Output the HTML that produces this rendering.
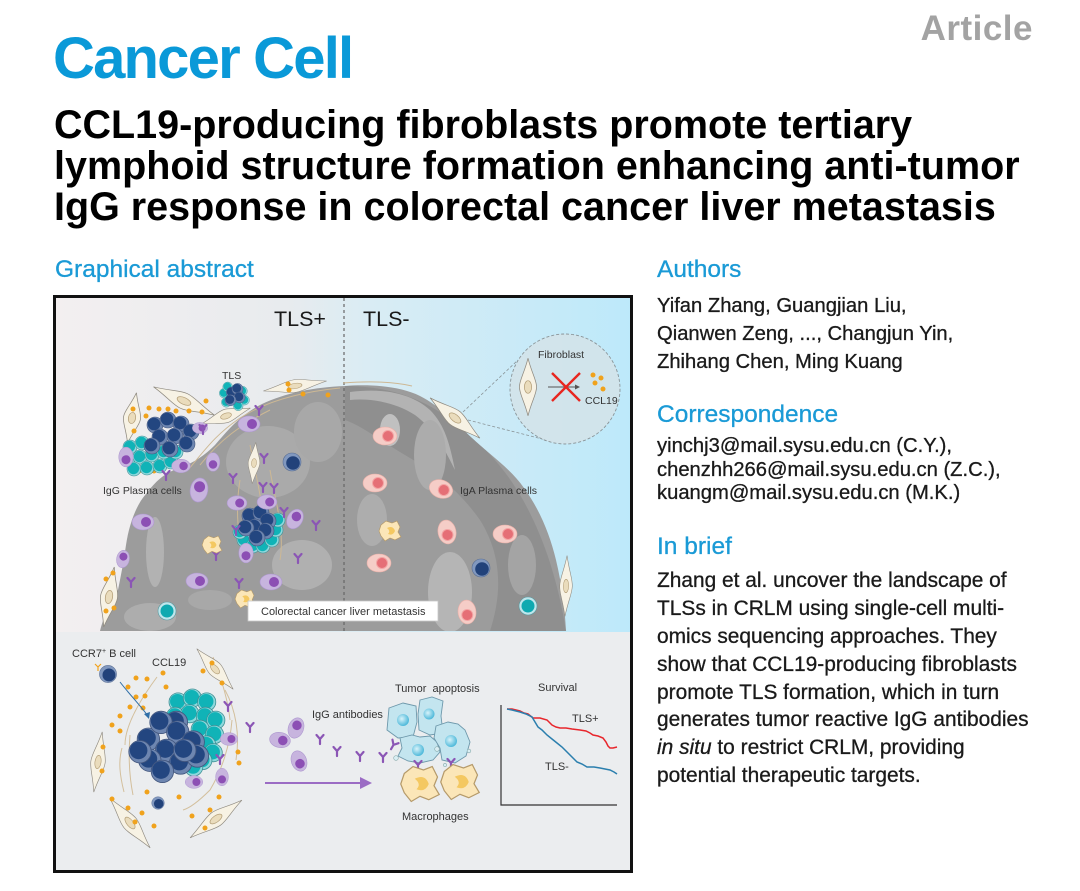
<!DOCTYPE html>
<html>
<head>
<meta charset="utf-8">
<style>
html,body{margin:0;padding:0;background:#fff;}
body{width:1080px;height:891px;overflow:hidden;position:relative;}
svg{position:absolute;left:0;top:0;}
</style>
</head>
<body>
<svg width="1080" height="891" viewBox="0 0 1080 891" xmlns="http://www.w3.org/2000/svg" font-family="Liberation Sans, Arial, sans-serif">
<defs>
  <linearGradient id="bg" x1="56" x2="630" y1="0" y2="0" gradientUnits="userSpaceOnUse">
    <stop offset="0" stop-color="#f3eff0"/>
    <stop offset="0.4" stop-color="#e8ebee"/>
    <stop offset="0.55" stop-color="#d9ecf4"/>
    <stop offset="1" stop-color="#bde9fa"/>
  </linearGradient>
  <radialGradient id="nuc" cx="0.4" cy="0.4" r="0.6">
    <stop offset="0" stop-color="#d8f3fa"/>
    <stop offset="1" stop-color="#4fb9da"/>
  </radialGradient>
  <clipPath id="blobclip">
    <path d="M100,631 C104,615 112,598 118,590 C121,575 124,560 126,545 C129,525 136,505 146,494 C155,482 165,472 180,468 C195,462 205,455 215,445 C228,430 240,415 262,404 C285,393 315,387 345,386 C370,384 400,386 420,396 C440,406 458,425 472,438 C490,455 510,468 524,488 C540,510 550,535 556,560 C562,585 565,610 566,631 Z"/>
  </clipPath>
  <g id="fib">
    <path d="M-32,0 C-15,-4 -8,-9 0,-9 C8,-9 15,-4 32,0 C15,4 8,9 0,9 C-8,9 -15,4 -32,0Z" fill="#f7f2e4" stroke="#8f8a80" stroke-width="0.8"/>
    <ellipse rx="7" ry="3.8" fill="#eadcbc" stroke="#b49f78" stroke-width="0.8"/>
  </g>
  <g id="pg"><ellipse rx="11" ry="8" fill="#c7b4de" stroke="#ad97cf" stroke-width="0.6"/><circle cx="3" cy="0" r="5" fill="#8c4fb4"/></g>
  <g id="pa"><ellipse rx="12" ry="9" fill="#f5cdc7" stroke="#e9b0a8" stroke-width="0.6"/><circle cx="3" r="5.5" fill="#e56f76" stroke="#f3a5a5" stroke-width="1"/></g>
  <g id="db"><circle r="9" fill="#8198bf" stroke="#5a6f94" stroke-width="0.6"/><circle cx="1" cy="1" r="6.8" fill="#22427a"/></g>
  <g id="tc"><circle r="9" fill="#bfe6ec" stroke="#5a9aa0" stroke-width="0.6"/><circle r="6.5" fill="#0fa9b0"/></g>
  <g id="dk"><circle r="8" fill="#6e86b0" stroke="#42567e" stroke-width="0.6"/><circle cx="-1" cy="-1" r="6.3" fill="#234680"/></g>
  <g id="tl"><circle r="7" fill="#8fd8dc" stroke="#3d8f94" stroke-width="0.6"/><circle cx="-0.5" cy="-0.5" r="5.7" fill="#10b3b7"/></g>
  <path id="ab" d="M0,1 L0,6 M0,1 L-3.5,-3 M0,1 L3.5,-3" stroke="#8b56b5" stroke-width="2.2" fill="none" stroke-linecap="round"/>
  <circle id="od" r="2.5" fill="#f0a21c"/>
  <g id="mac">
    <path d="M-9,-6 L-4,-10 L2,-8 L7,-10 L10,-4 L8,1 L11,6 L5,9 L0,7 L-5,10 L-9,5 L-11,0Z" fill="#fbe6b8" stroke="#b59a6a" stroke-width="0.7"/>
    <path d="M-3,-3 Q3,-6 5,0 Q3,5 -2,3 Q1,0 -3,-3Z" fill="#f4c861"/>
  </g>
</defs>

<!-- HEADER -->
<text x="53" y="78" font-size="58" font-weight="bold" fill="#0a99d8" letter-spacing="-1.8">Cancer Cell</text>
<text x="1033" y="40" font-size="35" font-weight="bold" fill="#a3a3a3" text-anchor="end" letter-spacing="0.5">Article</text>
<g font-size="39.5" font-weight="bold" fill="#000">
  <text x="54" y="138">CCL19-producing fibroblasts promote tertiary</text>
  <text x="54" y="179">lymphoid structure formation enhancing anti-tumor</text>
  <text x="54" y="220">IgG response in colorectal cancer liver metastasis</text>
</g>

<!-- SECTION HEADERS -->
<g font-size="24.5" fill="#1a9ad6" stroke="#1a9ad6" stroke-width="0.3">
  <text x="55" y="277">Graphical abstract</text>
  <text x="657" y="277">Authors</text>
  <text x="657" y="422">Correspondence</text>
  <text x="657" y="554">In brief</text>
</g>

<!-- RIGHT COLUMN TEXT -->
<g font-size="20.2" fill="#1a1a1a" stroke="#1a1a1a" stroke-width="0.3">
  <text x="657" y="312">Yifan Zhang, Guangjian Liu,</text>
  <text x="657" y="340">Qianwen Zeng, ..., Changjun Yin,</text>
  <text x="657" y="368">Zhihang Chen, Ming Kuang</text>
  <text x="657" y="452">yinchj3@mail.sysu.edu.cn (C.Y.),</text>
  <text x="657" y="476">chenzhh266@mail.sysu.edu.cn (Z.C.),</text>
  <text x="657" y="499">kuangm@mail.sysu.edu.cn (M.K.)</text>
</g>
<g font-size="20.9" fill="#1a1a1a" stroke="#1a1a1a" stroke-width="0.3">
  <text x="657" y="587">Zhang et al. uncover the landscape of</text>
  <text x="657" y="615">TLSs in CRLM using single-cell multi-</text>
  <text x="657" y="643">omics sequencing approaches. They</text>
  <text x="657" y="671">show that CCL19-producing fibroblasts</text>
  <text x="657" y="699">promote TLS formation, which in turn</text>
  <text x="657" y="726">generates tumor reactive IgG antibodies</text>
  <text x="657" y="754"><tspan font-style="italic">in situ</tspan> to restrict CRLM, providing</text>
  <text x="657" y="782">potential therapeutic targets.</text>
</g>

<!-- GRAPHICAL ABSTRACT BOX -->
<rect x="56" y="298" width="574" height="334" fill="url(#bg)"/>
<rect x="56" y="632" width="574" height="238" fill="#ebedef"/>

<!-- tumor blob -->
<path d="M100,631 C104,615 112,598 118,590 C121,575 124,560 126,545 C129,525 136,505 146,494 C155,482 165,472 180,468 C195,462 205,455 215,445 C228,430 240,415 262,404 C285,393 315,387 345,386 C370,384 400,386 420,396 C440,406 458,425 472,438 C490,455 510,468 524,488 C540,510 550,535 556,560 C562,585 565,610 566,631 Z" fill="#9c9c9c"/>
<g clip-path="url(#blobclip)">
  <path d="M345,386 C400,386 440,406 472,438 C510,468 550,530 566,631 L490,631 C500,600 505,560 480,520 C455,485 430,470 405,455 C380,440 360,425 345,420 Z" fill="#8f8f8f"/>
  <path d="M350,392 C380,388 410,392 430,410 C445,425 450,445 455,470 C445,450 435,430 415,415 C395,402 370,398 350,400Z" fill="#b3b3b3"/>
  <ellipse cx="390" cy="430" rx="10" ry="16" fill="#c0c0c0"/>
  <ellipse cx="430" cy="455" rx="16" ry="35" fill="#acacac"/>
  <ellipse cx="450" cy="592" rx="22" ry="40" fill="#b5b5b5"/>
  <ellipse cx="268" cy="462" rx="42" ry="36" fill="#aaaaaa"/>
  <ellipse cx="318" cy="432" rx="24" ry="30" fill="#a8a8a8"/>
  <ellipse cx="155" cy="552" rx="9" ry="35" fill="#b2b2b2"/>
  <ellipse cx="150" cy="617" rx="26" ry="14" fill="#adadad"/>
  <ellipse cx="302" cy="565" rx="30" ry="25" fill="#b0b0b0"/>
  <ellipse cx="372" cy="520" rx="15" ry="26" fill="#adadad"/>
  <ellipse cx="522" cy="565" rx="14" ry="30" fill="#a4a4a4"/>
  <ellipse cx="210" cy="600" rx="22" ry="10" fill="#a8a8a8"/>
</g>

<!-- dashed divider -->
<line x1="344" y1="298" x2="344" y2="631" stroke="#666" stroke-width="1.2" stroke-dasharray="3,3"/>

<!-- fibers top -->
<g stroke="#cdb894" stroke-width="1" fill="none">
  <path d="M188,470 C205,450 215,435 240,418 C265,402 300,392 340,388"/>
  <path d="M200,465 C220,440 240,425 270,410"/>
  <path d="M343,383 C370,381 395,382 412,386"/>
  <path d="M250,445 C255,470 262,500 265,530"/>
  <path d="M270,470 C275,500 285,530 280,560"/>
  <path d="M240,480 C235,510 238,540 245,560"/>
</g>

<!-- fibroblasts top -->
<use href="#fib" transform="translate(184,401) rotate(25) scale(1.05,0.9)"/>
<use href="#fib" transform="translate(226,416) rotate(-18) scale(0.8,0.75)"/>
<use href="#fib" transform="translate(295,386) rotate(-9) scale(1,0.7)"/>
<use href="#fib" transform="translate(132,418) rotate(-80) scale(0.8,0.95)"/>
<use href="#fib" transform="translate(254,463) rotate(-85) scale(0.65,0.65)"/>
<use href="#fib" transform="translate(109,597) rotate(-80) scale(0.95,0.95)"/>
<use href="#fib" transform="translate(455,418) rotate(39) scale(1,0.9)"/>
<use href="#fib" transform="translate(566,586) rotate(-88) scale(0.95,0.7)"/>

<!-- orange dots top -->
<g>
  <use href="#od" x="149" y="408"/><use href="#od" x="159" y="409"/><use href="#od" x="168" y="409"/>
  <use href="#od" x="176" y="411"/><use href="#od" x="189" y="411"/><use href="#od" x="206" y="401"/>
  <use href="#od" x="146" y="416"/><use href="#od" x="133" y="409"/><use href="#od" x="134" y="431"/>
  <use href="#od" x="139" y="471"/><use href="#od" x="154" y="471"/><use href="#od" x="289" y="390"/>
  <use href="#od" x="303" y="394"/><use href="#od" x="328" y="395"/><use href="#od" x="288" y="384"/>
  <use href="#od" x="106" y="579"/><use href="#od" x="113" y="573"/><use href="#od" x="114" y="608"/>
  <use href="#od" x="106" y="611"/><use href="#od" x="202" y="412"/>
</g>

<!-- TLS clusters top -->
<g>
  <use href="#tl" x="130" y="447"/><use href="#tl" x="142" y="443"/><use href="#tl" x="128" y="459"/>
  <use href="#tl" x="140" y="457"/><use href="#tl" x="152" y="455"/><use href="#tl" x="134" y="469"/>
  <use href="#tl" x="147" y="468"/><use href="#tl" x="160" y="466"/><use href="#tl" x="171" y="462"/>
  <use href="#tl" x="164" y="452"/><use href="#tl" x="176" y="452"/>
  <use href="#dk" x="155" y="425"/><use href="#dk" x="168" y="420"/><use href="#dk" x="181" y="424"/>
  <use href="#dk" x="191" y="432"/><use href="#dk" x="160" y="437"/><use href="#dk" x="175" y="436"/>
  <use href="#dk" x="187" y="444"/><use href="#dk" x="152" y="446"/><use href="#dk" x="170" y="449"/>
</g>
<g transform="translate(234,396) scale(0.7) translate(-234,-396)">
  <use href="#tl" x="220" y="392"/><use href="#tl" x="225" y="383"/><use href="#tl" x="246" y="389"/>
  <use href="#tl" x="249" y="402"/><use href="#tl" x="240" y="410"/><use href="#tl" x="223" y="405"/>
  <use href="#dk" x="231" y="391"/><use href="#dk" x="239" y="386"/><use href="#dk" x="242" y="398"/>
  <use href="#dk" x="229" y="402"/>
</g>
<g>
  <use href="#tl" x="244" y="540"/><use href="#tl" x="253" y="546"/><use href="#tl" x="263" y="546"/>
  <use href="#tl" x="272" y="540"/><use href="#tl" x="276" y="530"/><use href="#tl" x="278" y="520"/>
  <use href="#tl" x="240" y="532"/>
  <use href="#dk" x="250" y="516"/><use href="#dk" x="261" y="513"/><use href="#dk" x="268" y="521"/>
  <use href="#dk" x="255" y="527"/><use href="#dk" x="266" y="531"/><use href="#dk" x="246" y="528"/>
  <use href="#dk" x="257" y="538"/>
</g>

<!-- IgG plasma cells top -->
<g>
  <use href="#pg" transform="translate(249,424)"/>
  <use href="#pg" transform="translate(126,457) rotate(90) scale(0.9)"/>
  <use href="#pg" transform="translate(181,466) scale(0.85)"/>
  <use href="#pg" transform="translate(213,462) rotate(90) scale(0.85)"/>
  <use href="#pg" transform="translate(199,490) rotate(-80) scale(1.1)"/>
  <use href="#pg" transform="translate(237,503) scale(0.9)"/>
  <use href="#pg" transform="translate(267,502) scale(0.9)"/>
  <use href="#pg" transform="translate(295,519) rotate(-60) scale(0.95)"/>
  <use href="#pg" transform="translate(143,522) scale(1)"/>
  <use href="#pg" transform="translate(246,553) rotate(90) scale(0.9)"/>
  <use href="#pg" transform="translate(123,559) rotate(-80) scale(0.8)"/>
  <use href="#pg" transform="translate(197,581) scale(1)"/>
  <use href="#pg" transform="translate(271,582) scale(1)"/>
  <use href="#pg" transform="translate(200,428) scale(0.7)"/>
</g>
<!-- antibodies top -->
<g>
  <use href="#ab" x="203" y="428"/><use href="#ab" x="259" y="409"/><use href="#ab" x="264" y="457"/>
  <use href="#ab" x="233" y="477"/><use href="#ab" x="263" y="486"/><use href="#ab" x="274" y="487"/>
  <use href="#ab" x="284" y="511"/><use href="#ab" x="316" y="524"/><use href="#ab" x="216" y="554"/>
  <use href="#ab" x="236" y="529"/><use href="#ab" x="298" y="557"/><use href="#ab" x="131" y="581"/>
  <use href="#ab" x="239" y="582"/><use href="#ab" x="166" y="474"/>
</g>
<use href="#mac" transform="translate(212,545) scale(0.9)"/>
<use href="#mac" transform="translate(245,599) scale(0.9)"/>
<use href="#db" x="292" y="462"/>
<use href="#tc" x="167" y="611"/>

<!-- TLS- side cells -->
<use href="#pa" transform="translate(385,436)"/>
<use href="#pa" transform="translate(375,483)"/>
<use href="#pa" transform="translate(441,489) rotate(20)"/>
<use href="#pa" transform="translate(447,532) rotate(80)"/>
<use href="#pa" transform="translate(505,534)"/>
<use href="#pa" transform="translate(379,563)"/>
<use href="#pa" transform="translate(467,612) rotate(85)"/>
<use href="#mac" transform="translate(390,531)"/>
<use href="#db" x="481" y="568"/>
<use href="#tc" x="528" y="606"/>

<!-- magnified circle -->
<line x1="463" y1="412" x2="518" y2="360" stroke="#8a9498" stroke-width="0.8" stroke-dasharray="3,2"/>
<line x1="468" y1="420" x2="546" y2="440" stroke="#8a9498" stroke-width="0.8" stroke-dasharray="3,2"/>
<circle cx="565" cy="389" r="55" fill="#d3e3e9" fill-opacity="0.9" stroke="#8a9498" stroke-width="0.9" stroke-dasharray="3,2"/>
<use href="#fib" transform="translate(528,387) rotate(90) scale(0.9,0.95)"/>
<line x1="548" y1="387" x2="575" y2="387" stroke="#555" stroke-width="1"/>
<path d="M575,384.5 L580,387 L575,389.5Z" fill="#555"/>
<line x1="552" y1="373" x2="580" y2="401" stroke="#e8261f" stroke-width="2.4"/>
<line x1="580" y1="373" x2="552" y2="401" stroke="#e8261f" stroke-width="2.4"/>
<use href="#od" x="593" y="375"/><use href="#od" x="601" y="378"/><use href="#od" x="595" y="383"/><use href="#od" x="603" y="389"/>

<!-- top labels -->
<g fill="#1a1a1a">
  <text x="274" y="326" font-size="21.5">TLS+</text>
  <text x="363" y="326" font-size="21.5">TLS-</text>
</g>
<g fill="#333" font-size="10.5">
  <text x="222" y="379">TLS</text>
  <text x="103" y="494">IgG Plasma cells</text>
  <text x="460" y="494">IgA Plasma cells</text>
  <text x="538" y="358">Fibroblast</text>
  <text x="585" y="404">CCL19</text>
</g>
<rect x="248" y="601" width="190" height="20" fill="#fff" stroke="#c8c8c8" stroke-width="0.8"/>
<text x="261" y="615" font-size="11" fill="#333">Colorectal cancer liver metastasis</text>

<!-- BOTTOM PANEL -->
<g stroke="#d3bf9c" stroke-width="1" fill="none">
  <path d="M157,677 C140,700 125,725 125,745"/>
  <path d="M130,735 C128,760 130,780 133,795"/>
  <path d="M213,657 C222,680 228,700 230,720"/>
  <path d="M232,720 C230,745 222,770 210,790 C200,800 190,808 183,810"/>
  <path d="M122,748 C118,762 120,776 124,792"/>
  <path d="M225,690 C236,710 240,735 236,760"/>
</g>
<use href="#fib" transform="translate(215,669) rotate(48) scale(0.85,0.8)"/>
<use href="#fib" transform="translate(98,762) rotate(-82) scale(0.95,0.8)"/>
<use href="#fib" transform="translate(130,823) rotate(51) scale(1,0.85)"/>
<use href="#fib" transform="translate(216,819) rotate(-36) scale(1,0.85)"/>
<g>
  <use href="#od" x="136" y="678"/><use href="#od" x="147" y="679"/><use href="#od" x="163" y="673"/>
  <use href="#od" x="166" y="687"/><use href="#od" x="128" y="687"/><use href="#od" x="130" y="707"/>
  <use href="#od" x="136" y="697"/><use href="#od" x="145" y="696"/><use href="#od" x="143" y="708"/>
  <use href="#od" x="120" y="716"/><use href="#od" x="112" y="725"/><use href="#od" x="120" y="731"/>
  <use href="#od" x="103" y="747"/><use href="#od" x="102" y="771"/><use href="#od" x="203" y="671"/>
  <use href="#od" x="212" y="663"/><use href="#od" x="222" y="683"/><use href="#od" x="238" y="752"/>
  <use href="#od" x="239" y="763"/><use href="#od" x="147" y="792"/><use href="#od" x="179" y="797"/>
  <use href="#od" x="219" y="797"/><use href="#od" x="112" y="799"/><use href="#od" x="128" y="808"/>
  <use href="#od" x="142" y="813"/><use href="#od" x="135" y="822"/><use href="#od" x="154" y="826"/>
  <use href="#od" x="192" y="816"/><use href="#od" x="210" y="810"/><use href="#od" x="205" y="828"/>
</g>
<!-- big cluster bottom -->
<g>
  <g transform="scale(1.3)">
    <use href="#tl" x="137" y="540"/><use href="#tl" x="148" y="537"/><use href="#tl" x="159" y="540"/>
    <use href="#tl" x="135" y="551"/><use href="#tl" x="146" y="549"/><use href="#tl" x="158" y="551"/>
    <use href="#tl" x="166" y="554"/><use href="#tl" x="154" y="561"/><use href="#tl" x="165" y="565"/>
    <use href="#tl" x="159" y="573"/><use href="#tl" x="164" y="579"/><use href="#tl" x="156" y="585"/>
    <use href="#tl" x="149" y="590"/>
  </g>
  <g transform="scale(1.4)">
    <use href="#dk" x="126" y="516"/><use href="#dk" x="106" y="528"/><use href="#dk" x="115" y="516"/>
    <use href="#dk" x="127" y="523"/><use href="#dk" x="138" y="530"/><use href="#dk" x="119" y="536"/>
    <use href="#dk" x="107" y="543"/><use href="#dk" x="129" y="545"/><use href="#dk" x="116" y="551"/>
    <use href="#dk" x="141" y="540"/><use href="#dk" x="132" y="536"/><use href="#dk" x="100" y="537"/>
  </g>
</g>
<g>
  <use href="#pg" transform="translate(229,739) scale(0.8)"/>
  <use href="#pg" transform="translate(194,782) scale(0.8)"/>
  <use href="#pg" transform="translate(222,777) rotate(90) scale(0.8)"/>
  <use href="#pg" transform="translate(280,740) rotate(10) scale(0.95)"/>
  <use href="#pg" transform="translate(296,728) rotate(-70) scale(0.95)"/>
  <use href="#pg" transform="translate(299,761) rotate(70) scale(0.95)"/>
</g>
<g>
  <use href="#ab" x="250" y="726"/><use href="#ab" x="228" y="705"/><use href="#ab" x="220" y="758"/>
  <use href="#ab" x="320" y="738"/><use href="#ab" x="337" y="750"/><use href="#ab" x="360" y="755"/>
  <use href="#ab" x="383" y="756"/><use href="#ab" transform="translate(394,744) rotate(30)"/>
</g>
<use href="#db" transform="translate(108,674) scale(0.95)"/>
<path d="M98,667 l-3,-3 M98,667 l3,-3 M98,667 l0,4" stroke="#f0a21c" stroke-width="1.2"/>
<use href="#db" transform="translate(158,803) scale(0.7)"/>
<path d="M120,682 C130,695 140,705 148,716" stroke="#2f6fa8" stroke-width="1" fill="none"/>
<path d="M144,714 L149,719 L150,712Z" fill="#2f6fa8"/>
<line x1="265" y1="783" x2="362" y2="783" stroke="#9b6cc4" stroke-width="2"/>
<path d="M360,777 L372,783 L360,789Z" fill="#9b6cc4"/>

<!-- tumor cells -->
<g stroke="#6e98ab" stroke-width="0.9" fill="#c3e5ef">
  <path d="M389,708 L403,703 L416,706 L417,722 L413,737 L398,738 L387,730Z"/>
  <path d="M420,700 L432,697 L443,701 L441,716 L443,733 L430,735 L419,730 L418,714Z"/>
  <path d="M400,738 L412,735 L420,737 L430,736 L437,742 L440,752 L433,760 L420,763 L408,761 L398,756 L402,748Z"/>
  <path d="M436,726 L448,722 L458,724 L465,730 L470,742 L466,756 L455,763 L442,760 L440,748 L434,738Z"/>
</g>
<circle cx="403" cy="720" r="6" fill="url(#nuc)"/>
<circle cx="429" cy="714" r="5.5" fill="url(#nuc)"/>
<circle cx="418" cy="750" r="6" fill="url(#nuc)"/>
<circle cx="451" cy="741" r="6" fill="url(#nuc)"/>
<g fill="#d9eef4" stroke="#8aa" stroke-width="0.6">
  <circle cx="396" cy="758" r="2.3"/><circle cx="437" cy="749" r="2.3"/><circle cx="469" cy="751" r="1.8"/><circle cx="445" cy="765" r="1.6"/>
</g>
<use href="#ab" transform="translate(418,764)"/>
<use href="#ab" transform="translate(451,762)"/>
<use href="#mac" transform="translate(420,784) scale(1.75)"/>
<use href="#mac" transform="translate(460,782) scale(1.75)"/>

<!-- survival chart -->
<path d="M501,705 L501,805 L617,805" stroke="#333" stroke-width="1.2" fill="none"/>
<polyline points="507,709 512,709 516,710 520,711 524,713 528,714 533,718 540,718 547,720 549,722 552,725 556,727 560,728 566,728 572,729 580,730 586,731 590,733 593,735 598,736 603,738 606,742 608,746 610,748 613,748 617,747" fill="none" stroke="#e8262c" stroke-width="1.5"/>
<polyline points="507,709 512,710 520,712 526,714 532,717 535,722 538,727 542,730 547,735 552,739 557,743 562,747 567,752 572,757 577,762 582,764 587,767 594,767 600,768 605,769 610,770 614,772 617,774" fill="none" stroke="#2b7fae" stroke-width="1.5"/>

<!-- bottom labels -->
<g fill="#333" font-size="11">
  <text x="72" y="657">CCR7<tspan font-size="7" dy="-4">+</tspan><tspan dy="4"> B cell</tspan></text>
  <text x="152" y="666">CCL19</text>
  <text x="312" y="718">IgG antibodies</text>
  <text x="395" y="692" xml:space="preserve">Tumor  apoptosis</text>
  <text x="538" y="691">Survival</text>
  <text x="572" y="722">TLS+</text>
  <text x="545" y="770">TLS-</text>
  <text x="402" y="820">Macrophages</text>
</g>

<!-- box border -->
<rect x="54.5" y="296.5" width="577" height="575" fill="none" stroke="#111" stroke-width="3"/>
</svg>
</body>
</html>
